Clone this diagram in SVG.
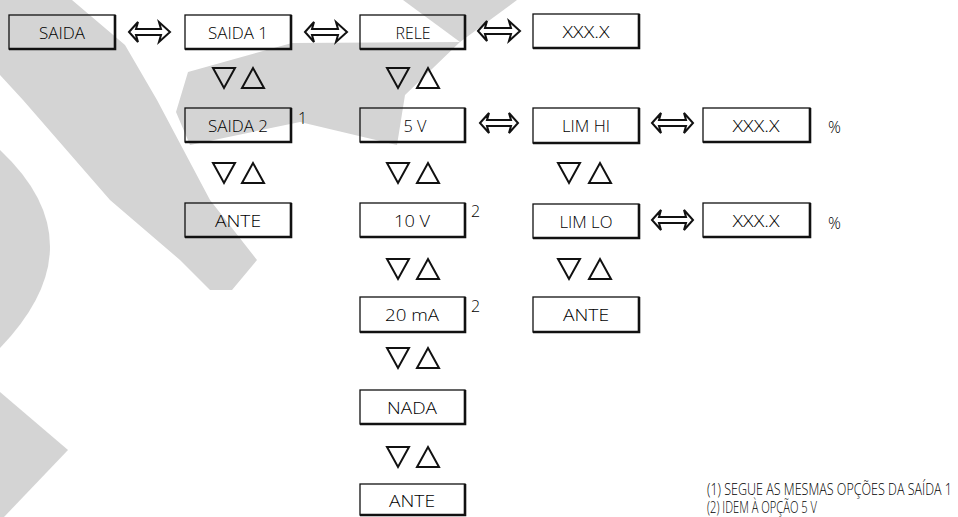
<svg xmlns="http://www.w3.org/2000/svg" xmlns:xlink="http://www.w3.org/1999/xlink" width="958" height="517" viewBox="0 0 958 517">
<style>
.wm{fill:#d4d4d4;stroke:none}
.box{fill:none;stroke:#111;stroke-width:1.3}
.sh{fill:none;stroke:#111;stroke-width:2.6}
.lbl{font-family:"Open Sans","Liberation Sans",Arial,sans-serif;font-weight:300;font-size:16px;fill:#000;text-anchor:middle}
.sup{font-family:"Open Sans","Liberation Sans",Arial,sans-serif;font-weight:300;font-size:16px;fill:#000}
.note{font-family:"Open Sans","Liberation Sans",Arial,sans-serif;font-weight:300;font-size:16px;fill:#000}
.arr{fill:none;stroke:#111;stroke-width:2;stroke-linejoin:miter}
.tri{fill:none;stroke:#111;stroke-width:2;stroke-linejoin:miter}
</style>
<defs>
<polygon id="dn" class="tri" points="0,0 22,0 11,20"/>
<polygon id="up" class="tri" points="0,20 22,20 11,0"/>
</defs>
<rect width="958" height="517" fill="#fff"/>
<g id="watermark">
<polygon class="wm" points="0,0 72,0 125,45 157,100 210,200 257,260 232,290 210,290 180,260 110,200 23,100 0,75"/>
<path class="wm" d="M0,150 Q100,244 0,348 Z"/>
<polygon class="wm" points="0,392 68,450 4,517 0,517"/>
<polygon class="wm" points="403,0 517,0 460,42"/>
<polygon class="wm" points="188,72 292,43 460,42 405,95 397,145 300,122 190,145 176,112"/>
</g>
<g id="connectors">
<path class="arr" d="M129,32 L138,22 L136,29 L161,29 L159,22 L170,32 L159,42 L161,35 L136,35 L138,42 Z"/>
<path class="arr" d="M305,32 L314,22 L312,29 L338,29 L336,22 L347,32 L336,42 L338,35 L312,35 L314,42 Z"/>
<path class="arr" d="M478,31 L487,21 L485,28 L511,28 L509,21 L520,31 L509,41 L511,34 L485,34 L487,41 Z"/>
<path class="arr" d="M480,123 L489,113 L487,120 L511,120 L509,113 L518,123 L509,133 L511,126 L487,126 L489,133 Z"/>
<path class="arr" d="M652,123 L661,113 L659,120 L686,120 L684,113 L693,123 L684,133 L686,126 L659,126 L661,133 Z"/>
<path class="arr" d="M652,220 L661,210 L659,217 L686,217 L684,210 L693,220 L684,230 L686,223 L659,223 L661,230 Z"/>
<use xlink:href="#dn" x="213" y="68"/><use xlink:href="#up" x="242" y="68"/>
<use xlink:href="#dn" x="387" y="68"/><use xlink:href="#up" x="417" y="68"/>
<use xlink:href="#dn" x="213" y="163"/><use xlink:href="#up" x="242" y="163"/>
<use xlink:href="#dn" x="387" y="163"/><use xlink:href="#up" x="417" y="163"/>
<use xlink:href="#dn" x="558" y="163"/><use xlink:href="#up" x="589" y="163"/>
<use xlink:href="#dn" x="387" y="259"/><use xlink:href="#up" x="417" y="259"/>
<use xlink:href="#dn" x="558" y="259"/><use xlink:href="#up" x="589" y="259"/>
<use xlink:href="#dn" x="387" y="348"/><use xlink:href="#up" x="417" y="348"/>
<use xlink:href="#dn" x="387" y="447"/><use xlink:href="#up" x="417" y="447"/>
</g>
<g id="n-saida"><rect class="box" x="9" y="15" width="106" height="34"/><path class="sh" d="M115,15 V49 H9"/><text class="lbl" x="62" y="39" textLength="46" lengthAdjust="spacingAndGlyphs">SAIDA</text></g>
<g id="n-saida1"><rect class="box" x="185" y="15" width="106" height="34"/><path class="sh" d="M291,15 V49 H185"/><text class="lbl" x="238" y="39" textLength="60" lengthAdjust="spacingAndGlyphs">SAIDA 1</text></g>
<g id="n-rele"><rect class="box" x="360" y="15" width="105" height="34"/><path class="sh" d="M465,15 V49 H360"/><text class="lbl" x="413" y="39" textLength="35" lengthAdjust="spacingAndGlyphs">RELE</text></g>
<g id="n-xxx1"><rect class="box" x="533" y="14" width="106" height="34"/><path class="sh" d="M639,14 V48 H533"/><text class="lbl" x="586" y="38" textLength="47" lengthAdjust="spacingAndGlyphs">XXX.X</text></g>
<g id="n-saida2"><rect class="box" x="185" y="108" width="106" height="34"/><path class="sh" d="M291,108 V142 H185"/><text class="lbl" x="238" y="132" textLength="60" lengthAdjust="spacingAndGlyphs">SAIDA 2</text><text class="sup" x="298" y="124">1</text></g>
<g id="n-5v"><rect class="box" x="360" y="108" width="105" height="34"/><path class="sh" d="M465,108 V142 H360"/><text class="lbl" x="415" y="132" textLength="23" lengthAdjust="spacingAndGlyphs">5 V</text></g>
<g id="n-limhi"><rect class="box" x="533" y="108" width="106" height="35"/><path class="sh" d="M639,108 V143 H533"/><text class="lbl" x="586" y="132" textLength="48" lengthAdjust="spacingAndGlyphs">LIM HI</text></g>
<g id="n-xxx2"><rect class="box" x="703" y="108" width="107" height="34"/><path class="sh" d="M810,108 V142 H703"/><text class="lbl" x="756" y="132" textLength="47" lengthAdjust="spacingAndGlyphs">XXX.X</text><text class="sup" x="828" y="133" textLength="15">%</text></g>
<g id="n-ante1"><rect class="box" x="185" y="203" width="106" height="34"/><path class="sh" d="M291,203 V237 H185"/><text class="lbl" x="238" y="227" textLength="46" lengthAdjust="spacingAndGlyphs">ANTE</text></g>
<g id="n-10v"><rect class="box" x="360" y="203" width="105" height="34"/><path class="sh" d="M465,203 V237 H360"/><text class="lbl" x="412" y="227" textLength="36" lengthAdjust="spacingAndGlyphs">10 V</text><text class="sup" x="471" y="217">2</text></g>
<g id="n-limlo"><rect class="box" x="533" y="204" width="106" height="34"/><path class="sh" d="M639,204 V238 H533"/><text class="lbl" x="586" y="228" textLength="53" lengthAdjust="spacingAndGlyphs">LIM LO</text></g>
<g id="n-xxx3"><rect class="box" x="703" y="203" width="107" height="34"/><path class="sh" d="M810,203 V237 H703"/><text class="lbl" x="756" y="227" textLength="47" lengthAdjust="spacingAndGlyphs">XXX.X</text><text class="sup" x="828" y="229" font-weight="600" textLength="16">%</text></g>
<g id="n-20ma"><rect class="box" x="360" y="297" width="105" height="35"/><path class="sh" d="M465,297 V332 H360"/><text class="lbl" x="412" y="321" textLength="54" lengthAdjust="spacingAndGlyphs">20 mA</text><text class="sup" x="471" y="312">2</text></g>
<g id="n-ante2"><rect class="box" x="533" y="297" width="106" height="35"/><path class="sh" d="M639,297 V332 H533"/><text class="lbl" x="586" y="321" textLength="46" lengthAdjust="spacingAndGlyphs">ANTE</text></g>
<g id="n-nada"><rect class="box" x="360" y="390" width="105" height="34"/><path class="sh" d="M465,390 V424 H360"/><text class="lbl" x="412" y="414" textLength="50" lengthAdjust="spacingAndGlyphs">NADA</text></g>
<g id="n-ante3"><rect class="box" x="360" y="484" width="105" height="31"/><path class="sh" d="M465,484 V515 H360"/><text class="lbl" x="412" y="507" textLength="46" lengthAdjust="spacingAndGlyphs">ANTE</text></g>
<g id="notes">
<text class="note" x="707" y="495" textLength="245" lengthAdjust="spacingAndGlyphs">(1) SEGUE AS MESMAS OPÇÕES DA SAÍDA 1</text>
<text class="note" x="707" y="513" textLength="110" lengthAdjust="spacingAndGlyphs">(2) IDEM À OPÇÃO 5 V</text>
</g>
</svg>
